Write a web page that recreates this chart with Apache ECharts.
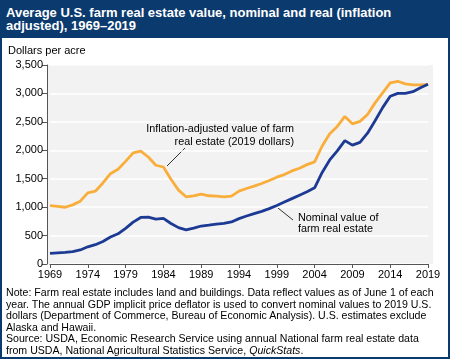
<!DOCTYPE html>
<html><head><meta charset="utf-8">
<script src="https://cdn.jsdelivr.net/npm/echarts@6/dist/echarts.min.js"></script>
<style>
html,body{margin:0;padding:0;background:#fff;}
#wrap{position:relative;width:450px;height:359px;box-sizing:border-box;border:2px solid #0b3a6e;overflow:hidden;font-family:"Liberation Sans",Arial,sans-serif;}
#title{position:absolute;left:0;top:0;width:446px;height:36px;background:#0b3a6e;color:#fff;font-weight:bold;font-size:13px;line-height:13px;padding:4px 0 0 4px;box-sizing:border-box;}
#chart{position:absolute;left:-2px;top:-2px;width:450px;height:359px;}
#note{position:absolute;left:4px;top:285px;width:444px;font-size:10.6px;line-height:11.5px;color:#000;}
</style></head>
<body>
<div id="wrap">
<div id="chart"></div>
<div id="title">Average U.S. farm real estate value, nominal and real (inflation<br>adjusted), 1969–2019</div>
<div id="note">Note: Farm real estate includes land and buildings. Data reflect values as of June 1 of each<br>year. The annual GDP implicit price deflator is used to convert nominal values to 2019 U.S.<br>dollars (Department of Commerce, Bureau of Economic Analysis). U.S. estimates exclude<br>Alaska and Hawaii.<br>Source: USDA, Economic Research Service using annual National farm real estate data<br>from USDA, National Agricultural Statistics Service, <i>QuickStats</i>.</div>
</div>
<script>
const years = [];
for (let y = 1969; y <= 2019; y++) years.push(String(y));

const nominal = [188, 196, 203, 219, 247, 302, 340, 397, 474, 531, 628, 737, 819, 823, 788, 801, 713, 640, 599, 632,
  668, 683, 703, 713, 740, 798, 844, 887, 926, 974, 1030, 1090, 1150, 1210, 1270, 1340, 1610, 1830, 1990, 2170,
  2090, 2140, 2300, 2520, 2750, 2950, 3000, 3000, 3030, 3100, 3160];

const real = [1028, 1015, 998, 1040, 1105, 1252, 1280, 1425, 1588, 1665, 1805, 1955, 1985, 1882, 1737, 1706, 1490, 1300, 1182, 1200,
  1229, 1200, 1194, 1182, 1194, 1282, 1328, 1369, 1415, 1468, 1527, 1573, 1637, 1685, 1748, 1795, 2075, 2291, 2420, 2595,
  2466, 2508, 2630, 2834, 3009, 3184, 3214, 3167, 3149, 3149, 3160];

const yTicks = [0, 500, 1000, 1500, 2000, 2500, 3000, 3500];

const chart = echarts.init(document.getElementById('chart'), null, {renderer: 'canvas'});
const font = '"Liberation Sans", Arial, sans-serif';
chart.setOption({
  animation: false,
  textStyle: {fontFamily: font},
  grid: {left: 50, right: 22, top: 65, bottom: 95, show: false},
  xAxis: {
    type: 'category', data: years, boundaryGap: false,
    axisLine: {lineStyle: {color: '#555', width: 1}},
    axisTick: {interval: 4, length: 4, lineStyle: {color: '#555'}},
    axisLabel: {interval: 4, color: '#000', fontSize: 11, margin: 5, fontFamily: font}
  },
  yAxis: {
    type: 'value', min: yTicks[0], max: yTicks[yTicks.length - 1], interval: 500, offset: 3,
    axisLine: {show: true, lineStyle: {color: '#555', width: 1}},
    axisTick: {show: true, length: 5, lineStyle: {color: '#555'}},
    axisLabel: {color: '#000', fontSize: 11, margin: 4, fontFamily: font,
      formatter: v => v.toLocaleString('en-US')},
    splitLine: {lineStyle: {color: '#ffffff', width: 1.5}}
  },
  graphic: [
    {type: 'rect', z: -10, silent: true, shape: {x: 47, y: 65, width: 386, height: 199}, style: {fill: '#f2f2f2'}},
    {type: 'text', left: 8, top: 45, style: {text: 'Dollars per acre', fontSize: 11, fill: '#000', fontFamily: font}},
    {type: 'text', x: 294, y: 123, style: {text: 'Inflation-adjusted value of farm\nreal estate (2019 dollars)', align: 'right', fontSize: 10.8, lineHeight: 12.5, fill: '#000', fontFamily: font}},
    {type: 'line', shape: {x1: 185, y1: 148, x2: 167, y2: 166}, style: {stroke: '#000', lineWidth: 0.8}},
    {type: 'text', x: 298, y: 212, style: {text: 'Nominal value of\nfarm real estate', align: 'left', fontSize: 10.8, lineHeight: 11.5, fill: '#000', fontFamily: font}},
    {type: 'line', shape: {x1: 293, y1: 220, x2: 278, y2: 208}, style: {stroke: '#000', lineWidth: 0.8}}
  ],
  series: [
    {name: 'Real', type: 'line', data: real, symbol: 'none', lineStyle: {color: '#f9ae3b', width: 2.8}, z: 2},
    {name: 'Nominal', type: 'line', data: nominal, symbol: 'none', lineStyle: {color: '#1c3a94', width: 2.8}, z: 3}
  ]
});
</script>
</body></html>
